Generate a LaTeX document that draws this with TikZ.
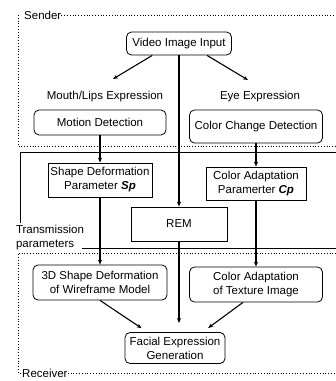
\documentclass[tikz,border=0pt]{standalone}
\usepackage{fontspec}
\setmainfont{Liberation Sans}
\usetikzlibrary{arrows.meta,positioning,calc}

\begin{document}
\begin{tikzpicture}[x=1pt,y=-1pt,
    font=\fontsize{11.5}{14}\selectfont,
    block/.style={
      rectangle,
      draw,
      thick,
      rounded corners=5pt,
      align=center,
      inner sep=1pt
    },
    param/.style={
      rectangle,
      draw,
      thick,
      align=center,
      inner sep=1pt
    },
    link/.style={-{Stealth[length=5pt,width=4pt]}, line width=1.1pt},
    frame/.style={dotted, thick}
]
\useasboundingbox (0,0) rectangle (336,381);

%% Sender side
\node [block, minimum width=105pt, minimum height=23pt] (video) at (179,43.5) {Video Image Input};
\node (mouth) at (105,97) {Mouth/Lips Expression};
\node (eye) at (260,97) {Eye Expression};
\coordinate (mouthtip) at (113,79);
\coordinate (eyetip) at (248,80);
\node [block, minimum width=132pt, minimum height=25pt] (motion) at (100,122.5) {Motion Detection};
\node [block, minimum width=133pt, minimum height=33pt] (colorchg) at (256,126.5) {Color Change Detection};

%% Transmitted parameters
\node [param, minimum width=104pt, minimum height=34pt] (shapep) at (100,180) {Shape Deformation\\Parameter \textbf{\textit{Sp}}};
\node [param, minimum width=100pt, minimum height=33pt] (colorp) at (256,183.5) {Color Adaptation\\Paramerter \textbf{\textit{Cp}}};
\node [param, minimum width=96pt, minimum height=34pt] (rem) at (179,224) {REM};
\node [align=left, inner sep=0pt] (trans) at (50,237.5) {Transmission\\parameters};

%% Receiver side
\node [block, minimum width=134pt, minimum height=35pt] (shape3d) at (100,282.5) {3D Shape Deformation\\of Wireframe Model};
\node [block, minimum width=133pt, minimum height=35pt] (texture) at (256,284.5) {Color Adaptation\\of Texture Image};
\node [block, minimum width=100pt, minimum height=31pt] (facial) at (175,348) {Facial Expression\\Generation};

%% Frames
\node [anchor=west, inner sep=0pt] (sender) at (24,15) {Sender};
\node [anchor=west, inner sep=0pt] (receiver) at (22,373) {Receiver};
\draw [frame] (sender.east) -- (336,15);
\draw [frame] (18,15) -- (18,146) -- (336,146);
\draw [frame] (336,253) -- (18,253) -- (18,373) -- (receiver.west);
\draw [frame] (receiver.east) -- (336,373);
\draw [line width=0.8pt] (336,152) -- (20,152) -- (20,223);
\draw [line width=0.8pt] (82,248) -- (336,248);

%% Arrows
\draw [link] (video.204) -- (mouthtip);
\draw [link] (video.-23) -- (eyetip);
\draw [link] (video.south) -- (rem.north);
\draw [link] (motion.south) -- (shapep.north);
\draw [link] (colorchg.south) -- (colorp.north);
\draw [link] (shapep.south) -- (shape3d.north);
\draw [link] (colorp.south) -- (texture.north);
\draw [link, shorten >=9pt] (rem.south) -- (rem.south |- facial.north);
\draw [link, shorten >=7pt] (shape3d.south) -- (facial.150);
\draw [link, shorten >=7pt] ($(texture.south)+(-13,0)$) -- (facial.30);

\end{tikzpicture}
\end{document}
